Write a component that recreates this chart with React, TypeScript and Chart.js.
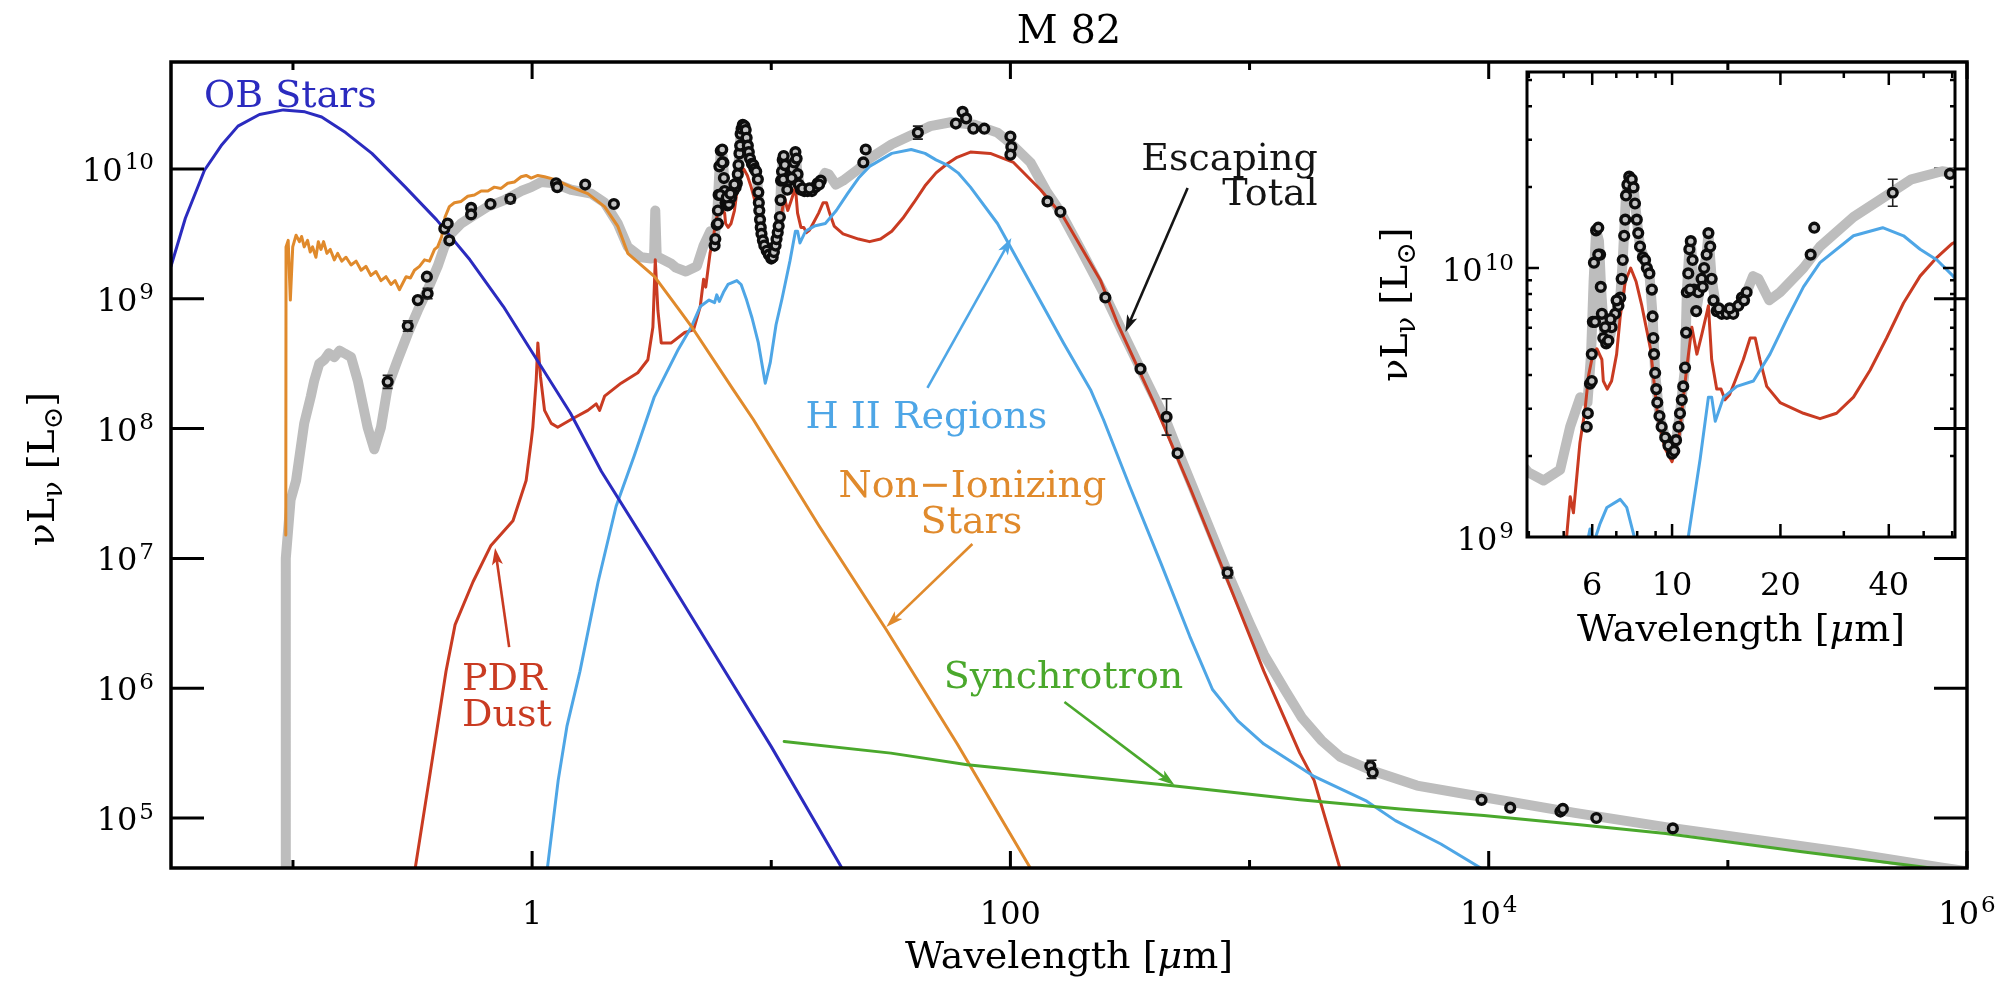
import React, { useEffect, useRef } from "react";
import { Chart, registerables } from "chart.js";

Chart.register(...registerables);

const FONT = '"DejaVu Serif", "Liberation Serif", serif';

// ---------------- data: [log10(wavelength / micron), log10(nuL_nu / Lsun)] ----------------
const obStars = [
  [-1.51, 9.25], [-1.45, 9.62], [-1.37, 9.99], [-1.3, 10.18], [-1.23, 10.33], [-1.14, 10.42], [-1.04, 10.455],
  [-0.95, 10.44], [-0.88, 10.4], [-0.78, 10.28], [-0.67, 10.12], [-0.53, 9.86], [-0.4, 9.61], [-0.26, 9.3],
  [-0.12, 8.94], [0.02, 8.53], [0.16, 8.12], [0.29, 7.67], [0.5, 7.05], [0.7, 6.45], [1.0, 5.55], [1.3, 4.6],
];

const nonIonizingStars = [
  [-1.03, 7.18], [-1.029, 9.4], [-1.02, 9.45], [-1.011, 8.99], [-1.001, 9.4], [-0.987, 9.49], [-0.973, 9.44],
  [-0.964, 9.48], [-0.953, 9.4], [-0.939, 9.45], [-0.928, 9.36], [-0.918, 9.4], [-0.904, 9.32], [-0.894, 9.44],
  [-0.883, 9.38], [-0.872, 9.44], [-0.858, 9.35], [-0.844, 9.38], [-0.827, 9.3], [-0.813, 9.35], [-0.796, 9.29],
  [-0.778, 9.32], [-0.757, 9.26], [-0.736, 9.29], [-0.715, 9.22], [-0.695, 9.25], [-0.674, 9.18], [-0.653, 9.21],
  [-0.632, 9.14], [-0.611, 9.17], [-0.59, 9.11], [-0.573, 9.14], [-0.555, 9.07], [-0.541, 9.12], [-0.527, 9.17],
  [-0.509, 9.16], [-0.492, 9.22], [-0.471, 9.25], [-0.45, 9.3], [-0.429, 9.29], [-0.408, 9.38], [-0.395, 9.4],
  [-0.378, 9.48], [-0.364, 9.63], [-0.346, 9.71], [-0.325, 9.74], [-0.297, 9.75], [-0.269, 9.79], [-0.241, 9.8],
  [-0.213, 9.83], [-0.185, 9.83], [-0.158, 9.86], [-0.13, 9.85], [-0.102, 9.89], [-0.074, 9.9], [-0.046, 9.94],
  [-0.025, 9.95], [-0.004, 9.93], [0.024, 9.95], [0.052, 9.94], [0.093, 9.92], [0.163, 9.86], [0.233, 9.81],
  [0.303, 9.71], [0.358, 9.56], [0.4, 9.35], [0.512, 9.17], [0.609, 8.93], [0.665, 8.79], [0.841, 8.3],
  [0.925, 8.07], [1.2, 7.25], [1.481, 6.45], [1.778, 5.57], [2.088, 4.6],
];

const pdrDust = [
  [-0.49, 4.6], [-0.431, 5.29], [-0.36, 6.13], [-0.322, 6.49], [-0.247, 6.82], [-0.172, 7.1], [-0.08, 7.29],
  [-0.025, 7.6], [-0.004, 7.9], [0.003, 8.01], [0.017, 8.37], [0.024, 8.66], [0.035, 8.4], [0.052, 8.14],
  [0.08, 8.04], [0.107, 8.01], [0.163, 8.07], [0.233, 8.14], [0.268, 8.19], [0.282, 8.14], [0.303, 8.25],
  [0.372, 8.35], [0.442, 8.43], [0.484, 8.53], [0.505, 8.78], [0.515, 9.3], [0.526, 8.91], [0.54, 8.66],
  [0.582, 8.66], [0.638, 8.74], [0.675, 8.76], [0.703, 8.94], [0.707, 9.0], [0.717, 9.15], [0.726, 9.09],
  [0.744, 9.35], [0.758, 9.47], [0.768, 9.6], [0.777, 9.66], [0.791, 9.7], [0.805, 9.66], [0.809, 9.58],
  [0.82, 9.55], [0.832, 9.58], [0.846, 9.68], [0.856, 9.82], [0.87, 9.95], [0.885, 10.0], [0.9, 9.95],
  [0.916, 9.86], [0.94, 9.7], [0.96, 9.45], [0.98, 9.33], [1.0, 9.28], [1.02, 9.38], [1.04, 9.62],
  [1.055, 9.78], [1.069, 9.68], [1.082, 9.75], [1.096, 9.83], [1.101, 9.86], [1.11, 9.66], [1.124, 9.55],
  [1.136, 9.55], [1.147, 9.51], [1.16, 9.53], [1.175, 9.58], [1.198, 9.66], [1.217, 9.74], [1.231, 9.74],
  [1.244, 9.66], [1.263, 9.56], [1.3, 9.5], [1.365, 9.46], [1.411, 9.44], [1.457, 9.46], [1.504, 9.52],
  [1.55, 9.62], [1.596, 9.74], [1.643, 9.87], [1.689, 9.97], [1.736, 10.04], [1.777, 10.09], [1.833, 10.13],
  [1.916, 10.12], [2.013, 10.05], [2.126, 9.84], [2.222, 9.63], [2.377, 9.14], [2.45, 8.8], [2.6, 8.2],
  [2.75, 7.55], [2.91, 6.82], [3.06, 6.13], [3.21, 5.5], [3.27, 5.29], [3.38, 4.6],
];

const hiiRegions = [
  [0.063, 4.6], [0.109, 5.29], [0.146, 5.71], [0.2, 6.13], [0.276, 6.82], [0.351, 7.4], [0.427, 7.79],
  [0.51, 8.24], [0.611, 8.61], [0.665, 8.78], [0.703, 8.94], [0.74, 8.99], [0.763, 8.97], [0.772, 9.03],
  [0.783, 8.98], [0.8, 9.05], [0.819, 9.11], [0.856, 9.14], [0.874, 9.11], [0.897, 8.99], [0.92, 8.85],
  [0.946, 8.66], [0.975, 8.35], [0.996, 8.51], [1.02, 8.8], [1.045, 9.0], [1.078, 9.29], [1.101, 9.52],
  [1.11, 9.52], [1.12, 9.43], [1.143, 9.52], [1.18, 9.56], [1.226, 9.58], [1.272, 9.68], [1.319, 9.81],
  [1.365, 9.93], [1.411, 10.02], [1.504, 10.12], [1.585, 10.15], [1.643, 10.12], [1.689, 10.07],
  [1.736, 10.03], [1.781, 9.97], [1.833, 9.86], [1.946, 9.58], [2.084, 9.12], [2.222, 8.66], [2.335, 8.3],
  [2.389, 8.07], [2.5, 7.55], [2.63, 6.96], [2.75, 6.4], [2.845, 5.99], [2.95, 5.75], [3.06, 5.57],
  [3.27, 5.32], [3.49, 5.13], [3.61, 4.98], [3.8, 4.8], [3.98, 4.6],
];

const synchrotron = [
  [1.054, 5.59], [1.5, 5.5], [1.82, 5.41], [2.2, 5.34], [2.67, 5.25], [3.21, 5.14], [3.63, 5.07],
  [3.98, 5.02], [4.37, 4.95], [4.74, 4.88], [5.31, 4.74], [5.7, 4.65], [6.0, 4.58],
];

const escapingTotal = [
  [-1.03, 4.5], [-1.03, 7.0], [-1.01, 7.45], [-0.987, 7.6], [-0.953, 8.04], [-0.925, 8.25], [-0.911, 8.37],
  [-0.89, 8.5], [-0.869, 8.53], [-0.85, 8.58], [-0.827, 8.55], [-0.805, 8.6], [-0.785, 8.58], [-0.757, 8.55],
  [-0.729, 8.37], [-0.688, 8.01], [-0.66, 7.84], [-0.632, 8.01], [-0.604, 8.32], [-0.562, 8.53], [-0.52, 8.73],
  [-0.478, 8.91], [-0.437, 9.07], [-0.395, 9.25], [-0.367, 9.4], [-0.339, 9.5], [-0.297, 9.58], [-0.255, 9.63],
  [-0.185, 9.71], [-0.116, 9.76], [-0.046, 9.83], [-0.004, 9.86], [0.038, 9.9], [0.093, 9.89], [0.163, 9.84],
  [0.247, 9.81], [0.303, 9.74], [0.358, 9.58], [0.4, 9.4], [0.456, 9.32], [0.498, 9.31], [0.51, 9.33],
  [0.515, 9.68], [0.521, 9.33], [0.529, 9.32], [0.582, 9.27], [0.601, 9.24], [0.643, 9.21], [0.689, 9.25],
  [0.717, 9.41], [0.745, 9.52], [0.765, 9.5], [0.775, 9.68], [0.782, 9.95], [0.789, 10.14], [0.797, 10.1],
  [0.803, 9.92], [0.812, 9.74], [0.825, 9.73], [0.842, 9.83], [0.856, 9.89], [0.863, 10.03], [0.872, 10.27],
  [0.881, 10.34], [0.893, 10.3], [0.902, 10.18], [0.911, 10.08], [0.925, 10.03], [0.937, 9.98], [0.946, 9.82],
  [0.953, 9.61], [0.965, 9.45], [0.981, 9.37], [1.0, 9.31], [1.011, 9.36], [1.022, 9.46], [1.036, 9.63],
  [1.041, 9.91], [1.048, 10.07], [1.052, 10.1], [1.061, 9.92], [1.067, 9.84], [1.082, 9.96], [1.096, 10.05],
  [1.101, 10.13], [1.11, 9.96], [1.124, 9.84], [1.152, 9.83], [1.184, 9.86], [1.207, 9.91], [1.225, 9.97],
  [1.24, 9.96], [1.27, 9.88], [1.3, 9.91], [1.365, 10.0], [1.411, 10.08], [1.504, 10.19], [1.596, 10.27],
  [1.665, 10.33], [1.75, 10.36], [1.8, 10.35], [1.85, 10.34], [1.946, 10.28], [2.0, 10.2], [2.084, 10.05],
  [2.15, 9.83], [2.209, 9.67], [2.3, 9.36], [2.397, 9.02], [2.47, 8.74], [2.544, 8.46], [2.6, 8.25],
  [2.653, 8.05], [2.7, 7.83], [2.8, 7.38], [2.908, 6.89], [3.0, 6.5], [3.06, 6.26], [3.15, 5.98], [3.22, 5.77],
  [3.3, 5.6], [3.38, 5.47], [3.52, 5.36], [3.7, 5.25], [3.98, 5.16], [4.36, 5.04], [4.74, 4.93], [5.13, 4.83],
  [5.51, 4.73], [5.89, 4.62], [6.0, 4.59],
];

const photometry = [
  [-0.604, 8.36], [-0.52, 8.79], [-0.478, 8.99], [-0.437, 9.04], [-0.44, 9.17], [-0.367, 9.54], [-0.353, 9.58],
  [-0.346, 9.45], [-0.255, 9.7], [-0.255, 9.65], [-0.174, 9.73], [-0.091, 9.77], [0.1, 9.89], [0.105, 9.86],
  [0.222, 9.88], [0.342, 9.73], [1.385, 10.05], [1.395, 10.15], [1.613, 10.28], [1.772, 10.35], [1.8, 10.44],
  [1.815, 10.39], [1.845, 10.31], [1.891, 10.31], [2.0, 10.25], [2.004, 10.17], [2.0, 10.11], [2.155, 9.75],
  [2.209, 9.67], [2.397, 9.01], [2.544, 8.46], [2.653, 8.09], [2.699, 7.81], [2.908, 6.89], [3.505, 5.4],
  [3.515, 5.35], [3.97, 5.14], [4.09, 5.08], [4.3, 5.05], [4.31, 5.07], [4.45, 5.0], [4.77, 4.92],
];

const spectrum = [
  [0.763, 9.41], [0.766, 9.46], [0.772, 9.57], [0.777, 9.68], [0.78, 9.8], [0.783, 10.02], [0.789, 10.14],
  [0.795, 10.15], [0.8, 10.05], [0.802, 9.93], [0.805, 9.83], [0.809, 9.74], [0.817, 9.72], [0.823, 9.73],
  [0.832, 9.78], [0.842, 9.83], [0.851, 9.86], [0.856, 9.89], [0.86, 9.96], [0.863, 10.03], [0.867, 10.12],
  [0.87, 10.18], [0.872, 10.27], [0.876, 10.31], [0.881, 10.34], [0.888, 10.33], [0.893, 10.3], [0.897, 10.24],
  [0.902, 10.18], [0.906, 10.13], [0.911, 10.08], [0.919, 10.04], [0.925, 10.03], [0.93, 10.0], [0.937, 9.98],
  [0.944, 9.92], [0.946, 9.82], [0.948, 9.74], [0.95, 9.68], [0.953, 9.61], [0.956, 9.55], [0.959, 9.5],
  [0.965, 9.45], [0.971, 9.41], [0.981, 9.37], [0.99, 9.34], [1.0, 9.31], [1.006, 9.32], [1.011, 9.36],
  [1.018, 9.41], [1.022, 9.46], [1.027, 9.51], [1.031, 9.56], [1.036, 9.63], [1.039, 9.76], [1.041, 9.91],
  [1.045, 9.98], [1.048, 10.07], [1.052, 10.1], [1.057, 10.03], [1.061, 9.92], [1.067, 9.84], [1.073, 9.91],
  [1.082, 9.96], [1.089, 10.0], [1.096, 10.05], [1.101, 10.13], [1.106, 10.08], [1.11, 9.96], [1.115, 9.88],
  [1.124, 9.84], [1.138, 9.83], [1.152, 9.83], [1.17, 9.83], [1.184, 9.86], [1.194, 9.89], [1.207, 9.91],
  [0.777, 9.58], [0.786, 9.8], [0.795, 10.05], [0.814, 9.78], [0.829, 9.81], [0.846, 9.88], [1.05, 9.92],
  [1.085, 9.93], [1.13, 9.85], [1.16, 9.85], [1.2, 9.88],
];

// [log10 wavelength, log10 luminosity, half-length of error bar in dex]
const errorBars = [
  [-0.604, 8.36, 0.05], [-0.52, 8.79, 0.04], [-0.437, 9.04, 0.04], [-0.091, 9.77, 0.03],
  [1.613, 10.28, 0.05], [2.653, 8.09, 0.14], [2.908, 6.89, 0.04], [3.51, 5.375, 0.07],
];

// ---------------- axes / ticks ----------------
const mainXRangeLog = [-1.51, 6.0];
const mainYRangeLog = [4.615, 10.824];
const mainXTickExps = [-1, 0, 1, 2, 3, 4, 5, 6];
const mainXLabels = [
  { exp: 0, base: "1", sup: "" },
  { exp: 2, base: "100", sup: "" },
  { exp: 4, base: "10", sup: "4" },
  { exp: 6, base: "10", sup: "6" },
];
const mainYTickExps = [5, 6, 7, 8, 9, 10];

const insetXRangeLog = [0.597, 1.786];
const insetYRangeLog = [9.0, 10.729];
const insetXTicks = [4, 5, 6, 7, 8, 9, 10, 20, 30, 40, 50, 60];
const insetXLabels = [6, 10, 20, 40];
const insetYTicks = [1e9, 2e9, 3e9, 4e9, 5e9, 6e9, 7e9, 8e9, 9e9, 1e10, 2e10, 3e10, 4e10, 5e10];
const insetYLabelExps = [9, 10];

// ---------------- colours ----------------
const C = {
  ob: "#2b2bbf",
  hii: "#4ea6e6",
  pdr: "#c93b22",
  nonIon: "#e08a2c",
  sync: "#4aa82c",
  total: "#bdbdbd",
  ink: "#151515",
};

// ---------------- annotations (anchored in data space) ----------------
const mainTexts = [
  { text: "OB Stars", at: [-1.372, 10.478], align: "left", color: C.ob },
  { text: "Escaping", at: [3.285, 9.992], align: "right", color: C.ink },
  { text: "Total", at: [3.285, 9.723], align: "right", color: C.ink },
  { text: "H II Regions", at: [1.649, 8.005], align: "center", color: C.hii },
  { text: "Non\u2212Ionizing", at: [1.841, 7.473], align: "center", color: C.nonIon },
  { text: "Stars", at: [1.837, 7.196], align: "center", color: C.nonIon },
  { text: "Synchrotron", at: [2.222, 6.002], align: "center", color: C.sync },
  { text: "PDR", at: [-0.293, 5.986], align: "left", color: C.pdr },
  { text: "Dust", at: [-0.293, 5.709], align: "left", color: C.pdr },
];
const mainArrows = [
  { from: [2.741, 9.854], to: [2.481, 8.744], color: C.ink },
  { from: [1.653, 8.313], to: [2.004, 9.468], color: C.hii },
  { from: [1.841, 7.111], to: [1.481, 6.472], color: C.nonIon },
  { from: [2.226, 5.894], to: [2.686, 5.254], color: C.sync },
  { from: [-0.096, 6.317], to: [-0.155, 7.08], color: C.pdr },
];

// ---------------- helpers ----------------
const toPoints = (rows) => rows.map(([lw, ll]) => ({ x: Math.pow(10, lw), y: Math.pow(10, ll) }));

function buildDatasets() {
  const curve = (label, rows, color, width, order) => ({
    label,
    data: toPoints(rows),
    showLine: true,
    borderColor: color,
    borderWidth: width,
    pointRadius: 0,
    tension: 0,
    fill: false,
    borderJoinStyle: "round",
    borderCapStyle: "round",
    order,
    clip: 0,
  });
  return [
    {
      label: "Observed",
      data: toPoints(photometry.concat(spectrum)),
      showLine: false,
      pointRadius: 4.4,
      pointBorderWidth: 3.4,
      pointBorderColor: "#0d0d0d",
      pointBackgroundColor: "#c4c4c4",
      order: 0,
      clip: 0,
    },
    curve("Synchrotron", synchrotron, C.sync, 3, 1),
    curve("OB Stars", obStars, C.ob, 3, 2),
    curve("Non-Ionizing Stars", nonIonizingStars, C.nonIon, 3, 3),
    curve("H II Regions", hiiRegions, C.hii, 3, 4),
    curve("PDR Dust", pdrDust, C.pdr, 3, 5),
    curve("Escaping Total", escapingTotal, C.total, 10, 9),
  ];
}

function drawPower(ctx, base, sup, x, baseline, align, size) {
  const supSize = Math.round(size * 0.72);
  ctx.font = `${size}px ${FONT}`;
  const wb = ctx.measureText(base).width;
  ctx.font = `${supSize}px ${FONT}`;
  const ws = sup ? ctx.measureText(sup).width + 2 : 0;
  const total = wb + ws;
  const left = align === "center" ? x - total / 2 : align === "right" ? x - total : x;
  ctx.textAlign = "left";
  ctx.textBaseline = "alphabetic";
  ctx.font = `${size}px ${FONT}`;
  ctx.fillText(base, left, baseline);
  if (sup) {
    ctx.font = `${supSize}px ${FONT}`;
    ctx.fillText(sup, left + wb + 2, baseline - size * 0.36);
  }
}

function drawLumTitle(ctx, baseX, centerY, size) {
  const sub = Math.round(size * 0.7);
  const parts = [
    { t: "\u03bdL", s: size, dy: 0 },
    { t: "\u03bd", s: sub, dy: size * 0.22 },
    { t: " [L", s: size, dy: 0 },
    { t: "\u2299", s: sub, dy: size * 0.22 },
    { t: "]", s: size, dy: 0 },
  ];
  let total = 0;
  for (const p of parts) {
    ctx.font = `${p.s}px ${FONT}`;
    p.w = ctx.measureText(p.t).width;
    total += p.w;
  }
  ctx.save();
  ctx.translate(baseX, centerY);
  ctx.rotate(-Math.PI / 2);
  ctx.textAlign = "left";
  ctx.textBaseline = "alphabetic";
  let x = -total / 2;
  for (const p of parts) {
    ctx.font = `${p.s}px ${FONT}`;
    ctx.fillText(p.t, x, p.dy);
    x += p.w;
  }
  ctx.restore();
}

function drawWavelengthTitle(ctx, cx, baseline, size) {
  const parts = [
    { t: "Wavelength [", f: `${size}px ${FONT}` },
    { t: "\u03bc", f: `italic ${size}px ${FONT}` },
    { t: "m]", f: `${size}px ${FONT}` },
  ];
  let total = 0;
  for (const p of parts) {
    ctx.font = p.f;
    p.w = ctx.measureText(p.t).width;
    total += p.w;
  }
  ctx.textAlign = "left";
  ctx.textBaseline = "alphabetic";
  let x = cx - total / 2;
  for (const p of parts) {
    ctx.font = p.f;
    ctx.fillText(p.t, x, baseline);
    x += p.w;
  }
}

function drawArrow(ctx, x1, y1, x2, y2, color) {
  const ang = Math.atan2(y2 - y1, x2 - x1);
  const head = 17;
  const half = 5.5;
  ctx.strokeStyle = color;
  ctx.fillStyle = color;
  ctx.lineWidth = 2.6;
  ctx.beginPath();
  ctx.moveTo(x1, y1);
  ctx.lineTo(x2 - Math.cos(ang) * head * 0.7, y2 - Math.sin(ang) * head * 0.7);
  ctx.stroke();
  ctx.beginPath();
  ctx.moveTo(x2, y2);
  ctx.lineTo(x2 - head * Math.cos(ang) + half * Math.sin(ang), y2 - head * Math.sin(ang) - half * Math.cos(ang));
  ctx.lineTo(x2 - head * 0.75 * Math.cos(ang), y2 - head * 0.75 * Math.sin(ang));
  ctx.lineTo(x2 - head * Math.cos(ang) - half * Math.sin(ang), y2 - head * Math.sin(ang) + half * Math.cos(ang));
  ctx.closePath();
  ctx.fill();
}

function drawErrorBars(chart) {
  const { ctx, chartArea: a, scales } = chart;
  ctx.save();
  ctx.beginPath();
  ctx.rect(a.left, a.top, a.right - a.left, a.bottom - a.top);
  ctx.clip();
  ctx.strokeStyle = "#222";
  ctx.lineWidth = 1.6;
  for (const [lw, ll, err] of errorBars) {
    const x = scales.x.getPixelForValue(Math.pow(10, lw));
    const yc = scales.y.getPixelForValue(Math.pow(10, ll));
    const yLo = scales.y.getPixelForValue(Math.pow(10, ll - err));
    const yHi = scales.y.getPixelForValue(Math.pow(10, ll + err));
    ctx.beginPath();
    if (yHi < yc - 6) {
      ctx.moveTo(x, yHi);
      ctx.lineTo(x, yc - 6);
    }
    if (yLo > yc + 6) {
      ctx.moveTo(x, yc + 6);
      ctx.lineTo(x, yLo);
    }
    ctx.moveTo(x - 5, yHi);
    ctx.lineTo(x + 5, yHi);
    ctx.moveTo(x - 5, yLo);
    ctx.lineTo(x + 5, yLo);
    ctx.stroke();
  }
  ctx.restore();
}

const mainDecor = {
  id: "mainDecor",
  afterDatasetsDraw(chart) {
    drawErrorBars(chart);
  },
  afterDraw(chart) {
    const { ctx, chartArea: a, scales } = chart;
    const X = (lw) => scales.x.getPixelForValue(Math.pow(10, lw));
    const Y = (ll) => scales.y.getPixelForValue(Math.pow(10, ll));
    ctx.save();
    ctx.strokeStyle = "#000";
    ctx.fillStyle = "#000";
    ctx.lineCap = "butt";
    // ticks
    ctx.lineWidth = 3;
    ctx.beginPath();
    for (const e of mainXTickExps) {
      const x = X(e);
      const len = mainXLabels.some((l) => l.exp === e) ? 17 : 8;
      ctx.moveTo(x, a.bottom);
      ctx.lineTo(x, a.bottom - len);
      ctx.moveTo(x, a.top);
      ctx.lineTo(x, a.top + len);
    }
    for (const e of mainYTickExps) {
      const y = Y(e);
      ctx.moveTo(a.left, y);
      ctx.lineTo(a.left + 33, y);
      ctx.moveTo(a.right, y);
      ctx.lineTo(a.right - 33, y);
    }
    ctx.stroke();
    // frame
    ctx.lineWidth = 3.5;
    ctx.strokeRect(a.left, a.top, a.right - a.left, a.bottom - a.top);
    // tick labels
    for (const l of mainXLabels) drawPower(ctx, l.base, l.sup, X(l.exp), a.bottom + 56, "center", 32);
    for (const e of mainYTickExps) drawPower(ctx, "10", String(e), a.left - 17, Y(e) + 12, "right", 32);
    // titles
    ctx.font = `40px ${FONT}`;
    ctx.textAlign = "center";
    ctx.textBaseline = "alphabetic";
    ctx.fillText("M 82", (a.left + a.right) / 2, a.top - 19);
    drawWavelengthTitle(ctx, (a.left + a.right) / 2, a.bottom + 100, 38);
    drawLumTitle(ctx, a.left - 117, (a.top + a.bottom) / 2 + 4, 38);
    // annotations
    for (const arr of mainArrows) {
      drawArrow(ctx, X(arr.from[0]), Y(arr.from[1]), X(arr.to[0]), Y(arr.to[1]), arr.color);
    }
    ctx.font = `38px ${FONT}`;
    ctx.textBaseline = "alphabetic";
    for (const t of mainTexts) {
      ctx.fillStyle = t.color;
      ctx.textAlign = t.align;
      ctx.fillText(t.text, X(t.at[0]), Y(t.at[1]));
    }
    ctx.restore();
  },
};

const insetDecor = {
  id: "insetDecor",
  afterDatasetsDraw(chart) {
    drawErrorBars(chart);
  },
  afterDraw(chart) {
    const { ctx, chartArea: a, scales } = chart;
    ctx.save();
    ctx.strokeStyle = "#000";
    ctx.fillStyle = "#000";
    ctx.lineWidth = 2.5;
    ctx.beginPath();
    for (const v of insetXTicks) {
      const x = scales.x.getPixelForValue(v);
      if (x < a.left + 1 || x > a.right - 1) continue;
      const len = insetXLabels.includes(v) ? 13 : 6;
      ctx.moveTo(x, a.bottom);
      ctx.lineTo(x, a.bottom - len);
      ctx.moveTo(x, a.top);
      ctx.lineTo(x, a.top + len);
    }
    for (const v of insetYTicks) {
      const y = scales.y.getPixelForValue(v);
      if (y < a.top + 1 || y > a.bottom - 1) continue;
      const major = v === 1e9 || v === 1e10;
      const len = major ? 12 : 5;
      ctx.moveTo(a.left, y);
      ctx.lineTo(a.left + len, y);
      ctx.moveTo(a.right, y);
      ctx.lineTo(a.right - len, y);
    }
    ctx.stroke();
    ctx.lineWidth = 3;
    ctx.strokeRect(a.left, a.top, a.right - a.left, a.bottom - a.top);
    ctx.font = `32px ${FONT}`;
    ctx.textAlign = "center";
    ctx.textBaseline = "alphabetic";
    for (const v of insetXLabels) ctx.fillText(String(v), scales.x.getPixelForValue(v), a.bottom + 58);
    for (const e of insetYLabelExps) {
      drawPower(ctx, "10", String(e), a.left - 13, scales.y.getPixelForValue(Math.pow(10, e)) + 13, "right", 32);
    }
    drawWavelengthTitle(ctx, (a.left + a.right) / 2, a.bottom + 104, 38);
    drawLumTitle(ctx, a.left - 120, (a.top + a.bottom) / 2, 38);
    ctx.restore();
  },
};

function baseOptions(xr, yr, padding) {
  return {
    animation: false,
    responsive: false,
    events: [],
    layout: { padding },
    plugins: { legend: { display: false }, tooltip: { enabled: false }, title: { display: false } },
    scales: {
      x: { type: "logarithmic", min: Math.pow(10, xr[0]), max: Math.pow(10, xr[1]), display: false },
      y: { type: "logarithmic", min: Math.pow(10, yr[0]), max: Math.pow(10, yr[1]), display: false },
    },
  };
}

export default function App() {
  const mainRef = useRef(null);
  const insetRef = useRef(null);

  useEffect(() => {
    const main = new Chart(mainRef.current, {
      type: "scatter",
      data: { datasets: buildDatasets() },
      options: baseOptions(mainXRangeLog, mainYRangeLog, { left: 163, top: 54, right: 40, bottom: 109 }),
      plugins: [mainDecor],
    });
    const inset = new Chart(insetRef.current, {
      type: "scatter",
      data: { datasets: buildDatasets() },
      options: baseOptions(insetXRangeLog, insetYRangeLog, { left: 169, top: 9, right: 13, bottom: 131 }),
      plugins: [insetDecor],
    });
    return () => {
      main.destroy();
      inset.destroy();
    };
  }, []);

  return (
    <div style={{ position: "relative", width: 1999, height: 969, background: "#ffffff" }}>
      <canvas ref={mainRef} width={1999} height={969} style={{ position: "absolute", left: 0, top: 0 }} />
      <canvas ref={insetRef} width={610} height={605} style={{ position: "absolute", left: 1350, top: 55 }} />
    </div>
  );
}
